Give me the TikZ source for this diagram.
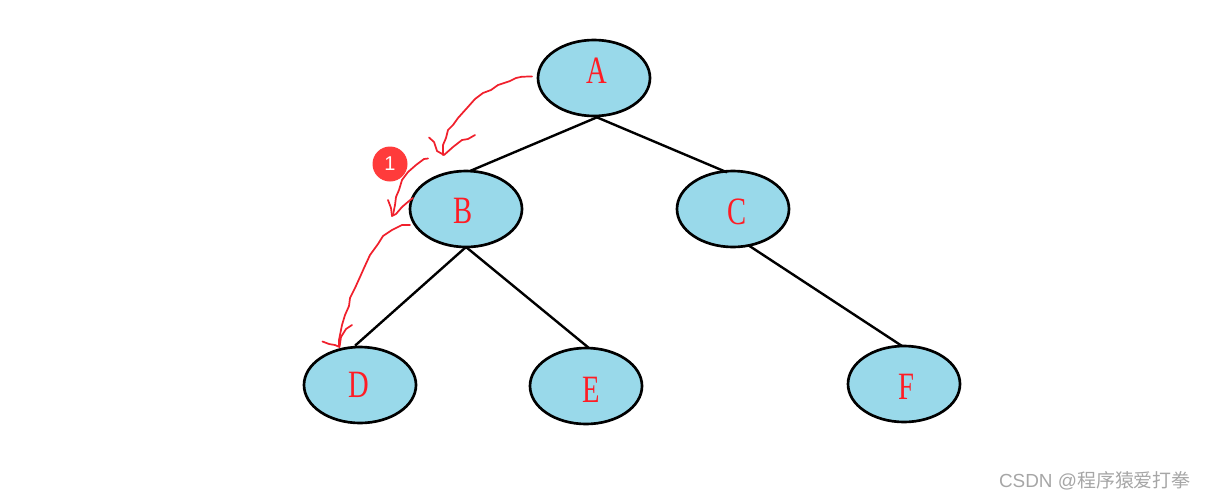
\documentclass[tikz,border=0pt]{standalone}
\usepackage{fontspec}
\newfontfamily\labelfont[FakeStretch=0.74]{Liberation Serif}
\newfontfamily\markfont{Noto Sans CJK SC}
\newfontfamily\latinfont{Liberation Sans}
\definecolor{nodefill}{HTML}{99D9EA}
\definecolor{inkred}{HTML}{F0202C}
\definecolor{letterred}{HTML}{FF1C24}
\definecolor{badgered}{HTML}{FF3B3B}
\definecolor{markgray}{HTML}{A6A6A6}
\tikzset{
  treenode/.style={ellipse, draw=black, fill=nodefill, line width=2pt,
    minimum width=112pt*0.75, minimum height=76pt*0.75, inner sep=0pt, outer sep=0pt},
  letter/.style={text=letterred, font=\labelfont\fontsize{29}{29}\selectfont, inner sep=0pt},
  branch/.style={draw=black, line width=1.8pt},
  ink/.style={draw=inkred, line width=1.3pt, line join=round, line cap=round},
}
\usetikzlibrary{shapes.geometric}
\begin{document}
\begin{tikzpicture}[x=0.75pt,y=-0.75pt]
\useasboundingbox (0,0) rectangle (1205,500);

% tree nodes
\node[treenode] (A) at (594,78) {};
\node[treenode] (B) at (466,209) {};
\node[treenode] (C) at (733,209) {};
\node[treenode] (D) at (360,385) {};
\node[treenode] (E) at (586,386) {};
\node[treenode] (F) at (904,384) {};

% branches
\draw[branch] ([xshift=2.2pt,yshift=-1pt]A.south) -- ([xshift=3pt,yshift=0pt]B.north);
\draw[branch] ([xshift=2.2pt,yshift=-1pt]A.south) -- ([xshift=-4.5pt,yshift=-1pt]C.north);
\draw[branch] (B.south) -- ([xshift=-3.7pt,yshift=1pt]D.north);
\draw[branch] (B.south) -- ([xshift=2.2pt,yshift=0pt]E.north);
\draw[branch] ([xshift=12pt,yshift=1pt]C.south) -- ([xshift=-1.5pt,yshift=0pt]F.north);

% node letters
\node[letter] (la) at (597,71) {A};
\node[letter] (lb) at (463,211) {B};
\node[letter] (lc) at (737,212) {C};
\node[letter] (ld) at (359,385) {D};
\node[letter] (le) at (591,390) {E};
\node[letter] (lf) at (906,387) {F};

% hand-drawn traversal strokes
\draw[ink] (532,76.5) -- (522,76.7) -- (516,78) -- (510,81) -- (498,85) -- (491,90) -- (483,93) -- (475,99) -- (467,108) -- (458,118) -- (453,125) -- (448,130) -- (446,138) -- (443,145) -- (443,155);
\draw[ink] (429,137.5) -- (434,142) -- (437,151) -- (444,155) -- (453,147) -- (462,140) -- (468,139) -- (475,135);
\draw[ink] (428,158.5) -- (424,159) -- (416,165) -- (408,172) -- (402,180) -- (399,190) -- (396,197) -- (395,205) -- (393,215);
\draw[ink] (388,200) -- (391,208) -- (392,216) -- (396,214) -- (402,207) -- (409,201) -- (413,198);
\draw[ink] (410,225) -- (402,225) -- (392,230) -- (383,236) -- (378,244) -- (370,255) -- (364,268) -- (360,277) -- (355,288) -- (350,298) -- (349,306) -- (345,315) -- (342,325) -- (339,340) -- (339,346);
\draw[ink] (322.5,341.5) -- (329,344) -- (335,345) -- (339.5,347) -- (341,337) -- (346,329) -- (352,325);

% numbered badge
\node[circle, fill=badgered, minimum size=35pt*0.75, inner sep=0pt, text=white,
  font=\latinfont\fontsize{15}{15}\selectfont] (badge) at (390,164) {1};

% credit line
\node[anchor=east, text=markgray, inner sep=0pt,
  font=\markfont\fontsize{14.2}{15}\selectfont] (credit) at (1191,481) {{\latinfont CSDN @}程序猿爱打拳};
\end{tikzpicture}
\end{document}
